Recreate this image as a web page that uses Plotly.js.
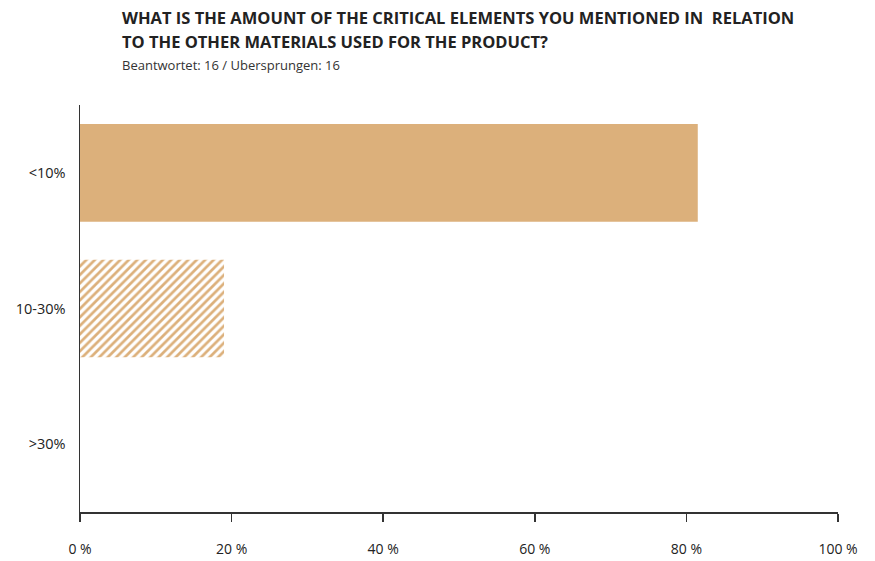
<!DOCTYPE html>
<html><head><meta charset="utf-8">
<script src="https://cdn.plot.ly/plotly-3.0.1.min.js"></script>
<style>html,body{margin:0;padding:0;background:#fff}</style>
</head><body>
<div id="chart" style="width:875px;height:561px"></div>
<script>
const categories = ["<10%", "10-30%", ">30%"];
const values = [81.5, 19.0, 0];
const patterns = ["", "/", ""];
const xTicks = [0, 20, 40, 60, 80, 100];
const xTickLabels = ["0 %", "20 %", "40 %", "60 %", "80 %", "100 %"];
const titleLines = ["WHAT IS THE AMOUNT OF THE CRITICAL ELEMENTS YOU MENTIONED IN  RELATION", "TO THE OTHER MATERIALS USED FOR THE PRODUCT?"];
const subtitle = "Beantwortet: 16 / Ubersprungen: 16";

const barColor = "#DCB07B";
const trace = {
  type: "bar", orientation: "h",
  y: categories, x: values,
  width: 0.72,
  marker: {
    color: categories.map(() => barColor),
    pattern: {
      shape: patterns,
      fgcolor: categories.map(() => barColor),
      bgcolor: categories.map(() => "#ffffff"),
      size: 6, solidity: 0.45, fillmode: "replace"
    },
    line: {width: 0}
  },
  hoverinfo: "none"
};
const layout = {
  width: 875, height: 561,
  margin: {l: 80, r: 37, t: 105, b: 49},
  paper_bgcolor: "#fff", plot_bgcolor: "#fff",
  showlegend: false,
  font: {family: "Open Sans, sans-serif", color: "#333"},
  xaxis: {
    range: [0, 100], tickvals: xTicks, ticktext: xTickLabels,
    showgrid: false, zeroline: false, showline: true, linecolor: "#333", linewidth: 1.5,
    ticks: "outside", ticklen: 8, tickcolor: "#333", tickwidth: 1.5,
    ticklabelstandoff: 16,
    tickfont: {size: 14, color: "#222", family: "Open Sans, sans-serif"}, fixedrange: true
  },
  yaxis: {
    autorange: "reversed",
    showgrid: false, zeroline: false, showline: true, linecolor: "#333", linewidth: 1.5,
    ticks: "", ticklabelstandoff: 10,
    tickfont: {size: 14.5, color: "#222", family: "Open Sans, sans-serif"}
  },
  annotations: [
    {xref: "paper", yref: "paper", x: (120-80)/758, y: 1, yshift: 105-17, xanchor: "left", yanchor: "middle", showarrow: false,
     text: "<b>" + titleLines[0] + "</b>", font: {size: 16.5, color: "#222", family: "Open Sans, sans-serif"}},
    {xref: "paper", yref: "paper", x: (120-80)/758, y: 1, yshift: 105-41, xanchor: "left", yanchor: "middle", showarrow: false,
     text: "<b>" + titleLines[1] + "</b>", font: {size: 16.5, color: "#222", family: "Open Sans, sans-serif"}},
    {xref: "paper", yref: "paper", x: (120-80)/758, y: 1, yshift: 105-65, xanchor: "left", yanchor: "middle", showarrow: false,
     text: subtitle, font: {size: 13, color: "#333", family: "Open Sans, sans-serif"}}
  ]
};
Plotly.newPlot("chart", [trace], layout, {displayModeBar: false, staticPlot: true});
</script>
</body></html>
